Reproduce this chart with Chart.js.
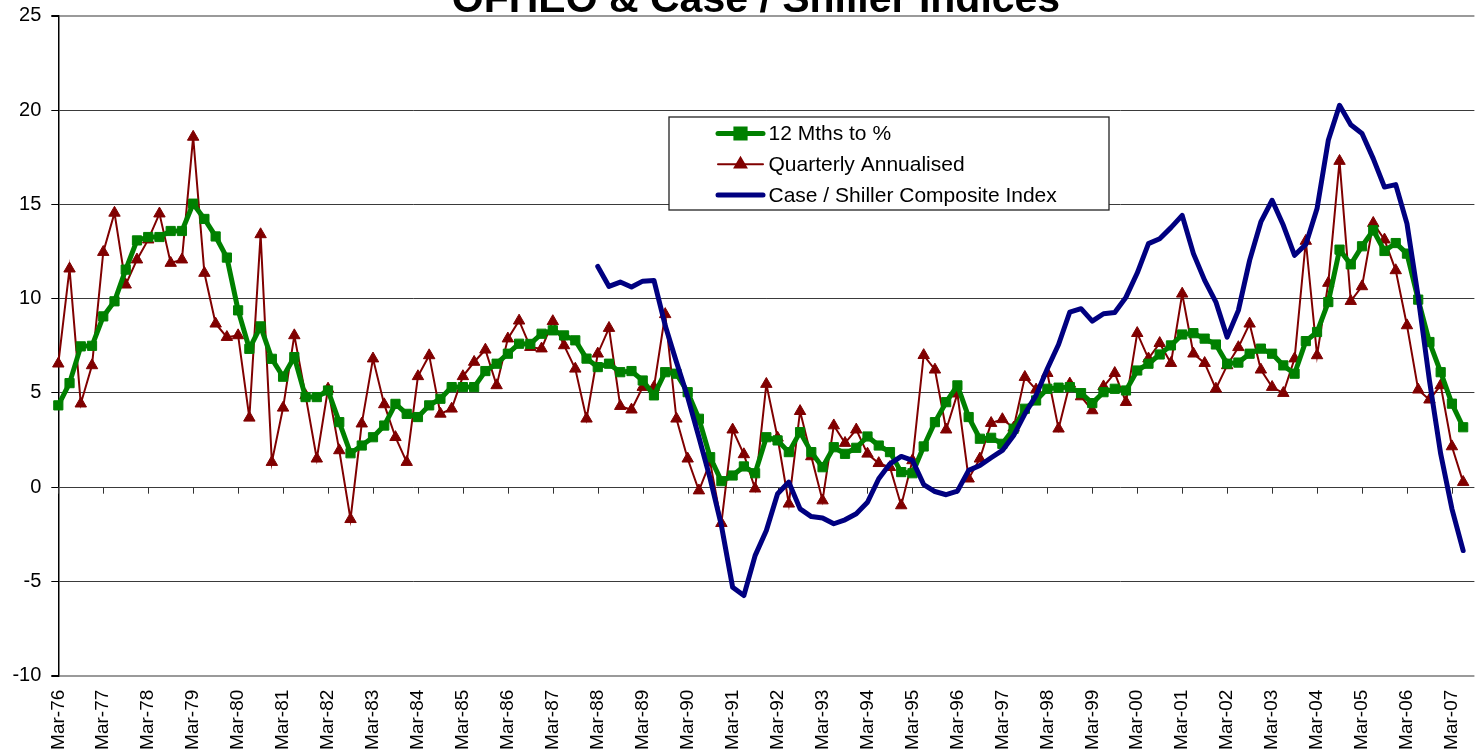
<!DOCTYPE html>
<html>
<head>
<meta charset="utf-8">
<title>OFHEO &amp; Case / Shiller Indices</title>
<script src="https://cdn.jsdelivr.net/npm/chart.js@4.4.1/dist/chart.umd.min.js"></script>
<style>
  html, body { margin: 0; padding: 0; background: #fff; overflow: hidden; }
  #wrap { position: relative; width: 1482px; height: 752px; }
</style>
</head>
<body>
<div id="wrap"><canvas id="chart" width="1482" height="752"></canvas></div>
<script>
'use strict';

const chartTitle = 'OFHEO & Case / Shiller Indices';

const tickLabels = [
  'Mar-76', 'Mar-77', 'Mar-78', 'Mar-79', 'Mar-80', 'Mar-81', 'Mar-82', 'Mar-83',
  'Mar-84', 'Mar-85', 'Mar-86', 'Mar-87', 'Mar-88', 'Mar-89', 'Mar-90', 'Mar-91',
  'Mar-92', 'Mar-93', 'Mar-94', 'Mar-95', 'Mar-96', 'Mar-97', 'Mar-98', 'Mar-99',
  'Mar-00', 'Mar-01', 'Mar-02', 'Mar-03', 'Mar-04', 'Mar-05', 'Mar-06', 'Mar-07'
];
const quarterMonths = ['Mar', 'Jun', 'Sep', 'Dec'];
const lastQuarter = 'Sep-07';

// 12 months to % (quarterly points, Mar-76 .. Jun-07)
const twelveMonth = [
  4.34, 5.52, 7.47, 7.50, 9.06, 9.86, 11.54, 13.09, 13.27, 13.27, 13.59, 13.59,
  15.04, 14.23, 13.30, 12.18, 9.38, 7.34, 8.53, 6.81, 5.86, 6.90, 4.78, 4.78,
  5.13, 3.45, 1.80, 2.21, 2.65, 3.27, 4.42, 3.89, 3.72, 4.34, 4.69, 5.31,
  5.31, 5.31, 6.16, 6.55, 7.08, 7.61, 7.60, 8.14, 8.32, 8.05, 7.79, 6.82,
  6.37, 6.55, 6.10, 6.16, 5.66, 4.87, 6.10, 6.02, 5.04, 3.63, 1.59, 0.32,
  0.62, 1.10, 0.74, 2.65, 2.48, 1.86, 2.92, 1.86, 1.06, 2.12, 1.77, 2.09,
  2.69, 2.21, 1.86, 0.80, 0.74, 2.16, 3.45, 4.51, 5.40, 3.72, 2.57, 2.62,
  2.30, 3.10, 4.16, 4.60, 5.22, 5.28, 5.31, 4.99, 4.46, 5.04, 5.22, 5.13,
  6.19, 6.55, 7.04, 7.52, 8.10, 8.17, 7.88, 7.57, 6.55, 6.61, 7.08, 7.35,
  7.08, 6.46, 6.02, 7.75, 8.23, 9.82, 12.60, 11.82, 12.78, 13.63, 12.53, 12.95,
  12.39, 9.95, 7.70, 6.10, 4.43, 3.18
];

// Quarterly annualised (Mar-76 .. Jun-07)
const quarterly = [
  6.55, 11.59, 4.43, 6.46, 12.47, 14.55, 10.74, 12.07, 13.13, 14.51, 11.89, 12.07,
  18.58, 11.36, 8.67, 7.96, 8.05, 3.68, 13.41, 1.33, 4.21, 8.05, 4.87, 1.51,
  5.22, 1.95, -1.70, 3.37, 6.82, 4.39, 2.65, 1.33, 5.88, 6.99, 3.89, 4.16,
  5.88, 6.64, 7.29, 5.40, 7.88, 8.83, 7.43, 7.35, 8.80, 7.52, 6.28, 3.63,
  7.08, 8.44, 4.30, 4.11, 5.31, 5.31, 9.17, 3.63, 1.51, -0.18, 1.33, -1.91,
  3.05, 1.74, -0.08, 5.47, 2.62, -0.88, 4.03, 1.63, -0.71, 3.27, 2.34, 3.05,
  1.77, 1.27, 1.06, -0.97, 1.42, 7.00, 6.23, 3.05, 4.96, 0.45, 1.51, 3.40,
  3.60, 3.15, 5.84, 5.17, 6.05, 3.10, 5.49, 4.81, 4.07, 5.34, 6.05, 4.51,
  8.17, 6.82, 7.64, 6.58, 10.26, 7.08, 6.58, 5.22, 6.46, 7.42, 8.67, 6.23,
  5.31, 4.99, 6.82, 13.06, 6.99, 10.83, 17.30, 9.87, 10.65, 14.01, 13.13, 11.50,
  8.58, 5.17, 4.64, 5.40, 2.16, 0.27
];

// Case / Shiller composite index, starts Mar-88
const caseShillerFrom = 'Mar-88';
const caseShiller = [
  11.71, 10.65, 10.88, 10.62, 10.93, 10.97, 8.58, 6.64, 4.78, 2.65, 0.45, -2.03,
  -5.31, -5.75, -3.63, -2.30, -0.35, 0.27, -1.15, -1.56, -1.63, -1.94, -1.73, -1.41,
  -0.80, 0.45, 1.24, 1.63, 1.42, 0.14, -0.23, -0.40, -0.21, 0.89, 1.15, 1.56,
  1.95, 2.74, 3.89, 4.87, 6.28, 7.57, 9.29, 9.47, 8.81, 9.20, 9.27, 10.08,
  11.36, 12.92, 13.18, 13.77, 14.42, 12.39, 10.97, 9.82, 7.96, 9.38, 12.03, 14.07,
  15.22, 13.89, 12.30, 12.88, 14.78, 18.40, 20.26, 19.23, 18.76, 17.43, 15.92, 16.05,
  13.98, 10.08, 5.66, 1.77, -1.15, -3.36
];

const fontFamily = '"Liberation Sans", Arial, Helvetica, sans-serif';

const categories = [];
tickLabels.forEach((label) => {
  const year = label.slice(4);
  quarterMonths.forEach((m) => categories.push(`${m}-${year}`));
});
categories.length = categories.indexOf(lastQuarter) + 1;

const padTo = (series, fromLabel) => [
  ...new Array(categories.indexOf(fromLabel)).fill(null),
  ...series
];

const decorations = {
  id: 'decorations',
  beforeDatasetsDraw(chart) {
    // tick marks sit on the zero line, where the category axis crosses
    const { ctx, scales: { x, y } } = chart;
    const y0 = y.getPixelForValue(0);
    ctx.save();
    ctx.strokeStyle = '#333';
    ctx.lineWidth = 1;
    ctx.beginPath();
    categories.forEach((c, i) => {
      if (!tickLabels.includes(c)) return;
      const px = Math.round(x.getPixelForValue(i)) + 0.5;
      ctx.moveTo(px, y0);
      ctx.lineTo(px, y0 + 6.5);
    });
    ctx.stroke();
    ctx.restore();
  },
  afterDraw(chart) {
    const { ctx } = chart;
    ctx.save();

    ctx.fillStyle = '#000';
    ctx.font = `bold 41px ${fontFamily}`;
    ctx.textAlign = 'center';
    ctx.textBaseline = 'alphabetic';
    ctx.fillText(chartTitle, 756, 12);

    // legend box
    const box = { left: 669, top: 117, right: 1109, bottom: 210 };
    ctx.fillStyle = '#fff';
    ctx.fillRect(box.left, box.top, box.right - box.left, box.bottom - box.top);
    ctx.strokeStyle = '#222';
    ctx.lineWidth = 1.3;
    ctx.strokeRect(box.left, box.top, box.right - box.left, box.bottom - box.top);

    ctx.font = `21px ${fontFamily}`;
    ctx.textAlign = 'left';
    ctx.textBaseline = 'middle';
    chart.data.datasets.forEach((ds, i) => {
      const rowY = 133.5 + i * 30.8;
      ctx.strokeStyle = ds.borderColor;
      ctx.lineWidth = ds.borderWidth;
      ctx.lineCap = 'round';
      ctx.beginPath();
      ctx.moveTo(718, rowY);
      ctx.lineTo(763, rowY);
      ctx.stroke();
      if (ds.pointRadius > 0) {
        ctx.fillStyle = ds.pointBackgroundColor;
        ctx.strokeStyle = ds.pointBorderColor;
        Chart.helpers.drawPoint(ctx, {
          pointStyle: ds.pointStyle,
          radius: ds.pointRadius,
          borderWidth: ds.pointBorderWidth,
          rotation: 0
        }, 740.5, rowY);
      }
      ctx.fillStyle = '#000';
      ctx.fillText(ds.label, 768.5, rowY + 1);
    });

    ctx.restore();
  }
};

const gridEdge = (value) => value === 25 || value === -10;

new Chart(document.getElementById('chart'), {
  type: 'line',
  data: {
    labels: categories,
    datasets: [
      {
        label: '12 Mths to %',
        data: twelveMonth,
        order: 1,
        borderColor: '#008000',
        backgroundColor: '#008000',
        borderWidth: 5,
        borderJoinStyle: 'round',
        pointStyle: 'rect',
        pointRadius: 6.5,
        pointBorderWidth: 1,
        pointBackgroundColor: '#008000',
        pointBorderColor: '#008000'
      },
      {
        label: 'Quarterly Annualised',
        data: quarterly,
        order: 2,
        borderColor: '#800000',
        backgroundColor: '#800000',
        borderWidth: 2,
        pointStyle: 'triangle',
        pointRadius: 6.6,
        pointBorderWidth: 1,
        pointBackgroundColor: '#800000',
        pointBorderColor: '#800000'
      },
      {
        label: 'Case / Shiller Composite Index',
        data: padTo(caseShiller, caseShillerFrom),
        order: 0,
        borderColor: '#000080',
        backgroundColor: '#000080',
        borderWidth: 5,
        borderJoinStyle: 'round',
        borderCapStyle: 'round',
        pointRadius: 0,
        pointBackgroundColor: '#000080',
        pointBorderColor: '#000080'
      }
    ]
  },
  options: {
    responsive: false,
    animation: false,
    events: [],
    layout: { padding: { top: 15.9, right: 2.4, left: 0, bottom: 0 } },
    plugins: {
      legend: { display: false },
      title: { display: false },
      tooltip: { enabled: false }
    },
    scales: {
      x: {
        type: 'category',
        offset: false,
        grid: { display: false },
        border: { display: false },
        ticks: {
          autoSkip: false,
          minRotation: 90,
          maxRotation: 90,
          padding: 6,
          color: '#000',
          font: { family: fontFamily, size: 19 },
          callback: (value, index) => (tickLabels.includes(categories[index]) ? categories[index] : '')
        },
        afterFit: (scale) => {
          scale.height = 76.3;
          scale.paddingLeft = 0;
          scale.paddingRight = 0;
        }
      },
      y: {
        min: -10,
        max: 25,
        ticks: {
          stepSize: 5,
          padding: 10,
          color: '#000',
          font: { family: fontFamily, size: 20 }
        },
        grid: {
          color: (ctx) => (gridEdge(ctx.tick.value) ? '#9a9a9a' : '#3a3a3a'),
          lineWidth: (ctx) => (gridEdge(ctx.tick.value) ? 2 : 1),
          tickLength: 7,
          tickColor: '#000'
        },
        border: { color: '#000', width: 1.5 },
        afterFit: (scale) => {
          scale.width = 58.3;
          scale.paddingTop = 0;
          scale.paddingBottom = 0;
        }
      }
    }
  },
  plugins: [decorations]
});
</script>
</body>
</html>
